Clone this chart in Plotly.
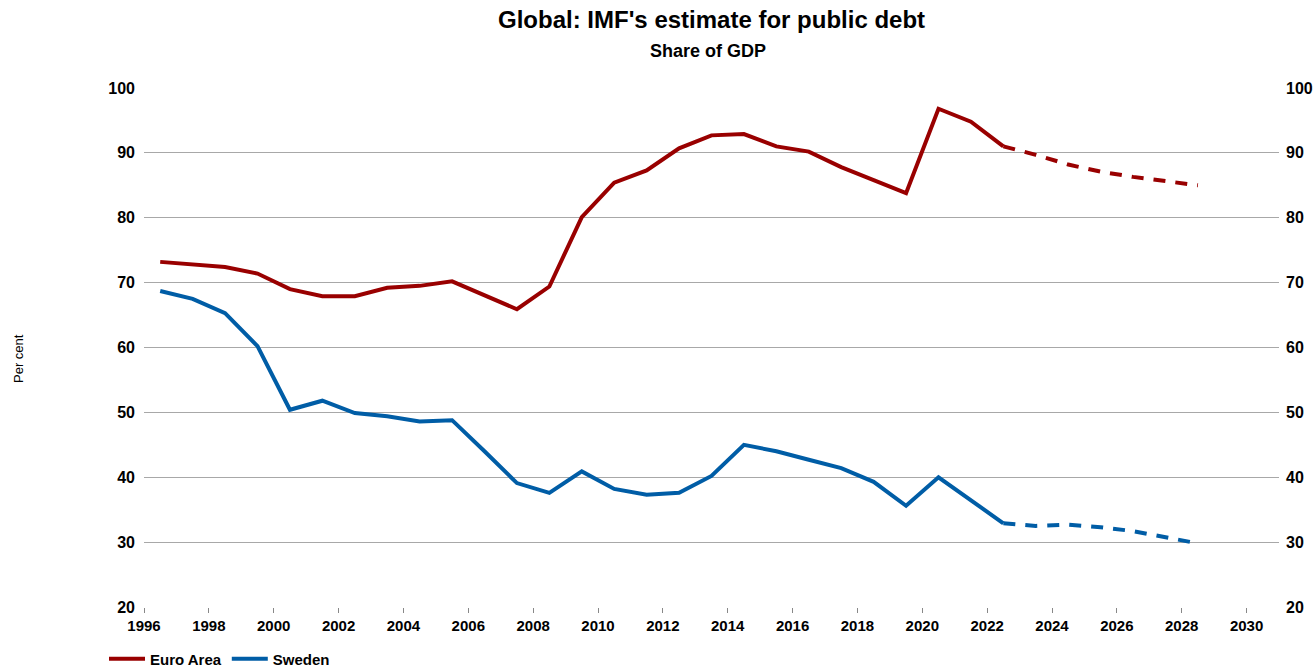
import plotly.graph_objects as go

years = [1996.5 + i for i in range(33)]
euro_area = [73.2, 72.8, 72.4, 71.4, 69.0, 67.9, 67.9, 69.2, 69.5, 70.2, 68.1, 65.9, 69.4,
             80.1, 85.4, 87.3, 90.7, 92.7, 92.9, 91.0, 90.2, 87.8, 85.8, 83.8, 96.8, 94.8,
             91.0, 89.7, 88.2, 87.1, 86.3, 85.6, 85.0]
sweden = [68.7, 67.5, 65.3, 60.2, 50.4, 51.8, 49.9, 49.4, 48.6, 48.8, 44.0, 39.1, 37.6,
          40.9, 38.2, 37.3, 37.6, 40.2, 45.0, 44.0, 42.7, 41.4, 39.3, 35.6, 40.0, 36.5,
          32.9, 32.5, 32.7, 32.3, 31.7, 30.8, 29.8]
forecast_start = 26  # index of 2022.5, last actual value
x_tick_vals = list(range(1996, 2031, 2))
y_tick_vals = list(range(20, 101, 10))

RED = "#990000"
BLUE = "#005da6"
FONT = "Liberation Sans, Arial, sans-serif"

W, H = 1316, 669
# plot area in page pixels: x 144..1279, y 88..607
L, T = 144, 88
R = W - 1279
B = H - 607
PW, PH = W - L - R, H - T - B


def px(x):
    return (x - L) / PW


def py(y):
    return (H - B - y) / PH


fig = go.Figure()
for name, vals, color in [("Euro Area", euro_area, RED), ("Sweden", sweden, BLUE)]:
    fig.add_trace(go.Scatter(
        x=years[:forecast_start + 1], y=vals[:forecast_start + 1], mode="lines",
        name=name, legendgroup=name, line=dict(color=color, width=4)))
    fig.add_trace(go.Scatter(
        x=years[forecast_start:], y=vals[forecast_start:], mode="lines",
        name=name, legendgroup=name, showlegend=False,
        line=dict(color=color, width=4, dash="12px,10px")))

# invisible trace to activate right axis
fig.add_trace(go.Scatter(x=[years[0]], y=[euro_area[0]], yaxis="y2", mode="lines",
                         showlegend=False, hoverinfo="skip", line=dict(width=0)))

fig.update_layout(
    width=W, height=H,
    paper_bgcolor="white", plot_bgcolor="white",
    margin=dict(l=L, r=R, t=T, b=B, autoexpand=False),
    font=dict(family=FONT, color="black"),
    xaxis=dict(range=[1996, 2031], tickvals=x_tick_vals, ticks="outside", ticklen=5,
               tickcolor="#888", tickwidth=1, showgrid=False, zeroline=False,
               showline=False, automargin=False,
               tickfont=dict(size=15, family=FONT, weight="bold")),
    yaxis=dict(range=[20, 100], tickvals=y_tick_vals, showgrid=True, gridcolor="#a8a8a8",
               gridwidth=1, zeroline=False, showline=False, ticks="", ticklabelstandoff=8,
               automargin=False, tickfont=dict(size=16, family=FONT, weight="bold")),
    yaxis2=dict(range=[20, 100], tickvals=y_tick_vals, overlaying="y", side="right",
                showgrid=False, zeroline=False, showline=False, ticks="", ticklabelstandoff=6,
                automargin=False, tickfont=dict(size=16, family=FONT, weight="bold")),
    legend=dict(orientation="h", x=px(104), xanchor="left", y=py(659), yanchor="middle",
                font=dict(size=15, family=FONT, weight="bold"), itemwidth=36,
                tracegroupgap=0, itemclick=False, bgcolor="rgba(0,0,0,0)"),
    showlegend=True,
    annotations=[
        dict(text="<b>Global: IMF's estimate for public debt</b>", xref="paper", yref="paper",
             x=px(711), y=py(20), xanchor="center", yanchor="middle", showarrow=False,
             font=dict(size=24, family=FONT)),
        dict(text="<b>Share of GDP</b>", xref="paper", yref="paper",
             x=px(708), y=py(51), xanchor="center", yanchor="middle", showarrow=False,
             font=dict(size=18, family=FONT)),
        dict(text="Per cent", xref="paper", yref="paper", textangle=-90,
             x=px(18), y=py(359), xanchor="center", yanchor="middle", showarrow=False,
             font=dict(size=13, family=FONT)),
    ],
)

fig.write_html("out.html", config={"displayModeBar": False},
               post_script="document.body.style.margin='0';")
